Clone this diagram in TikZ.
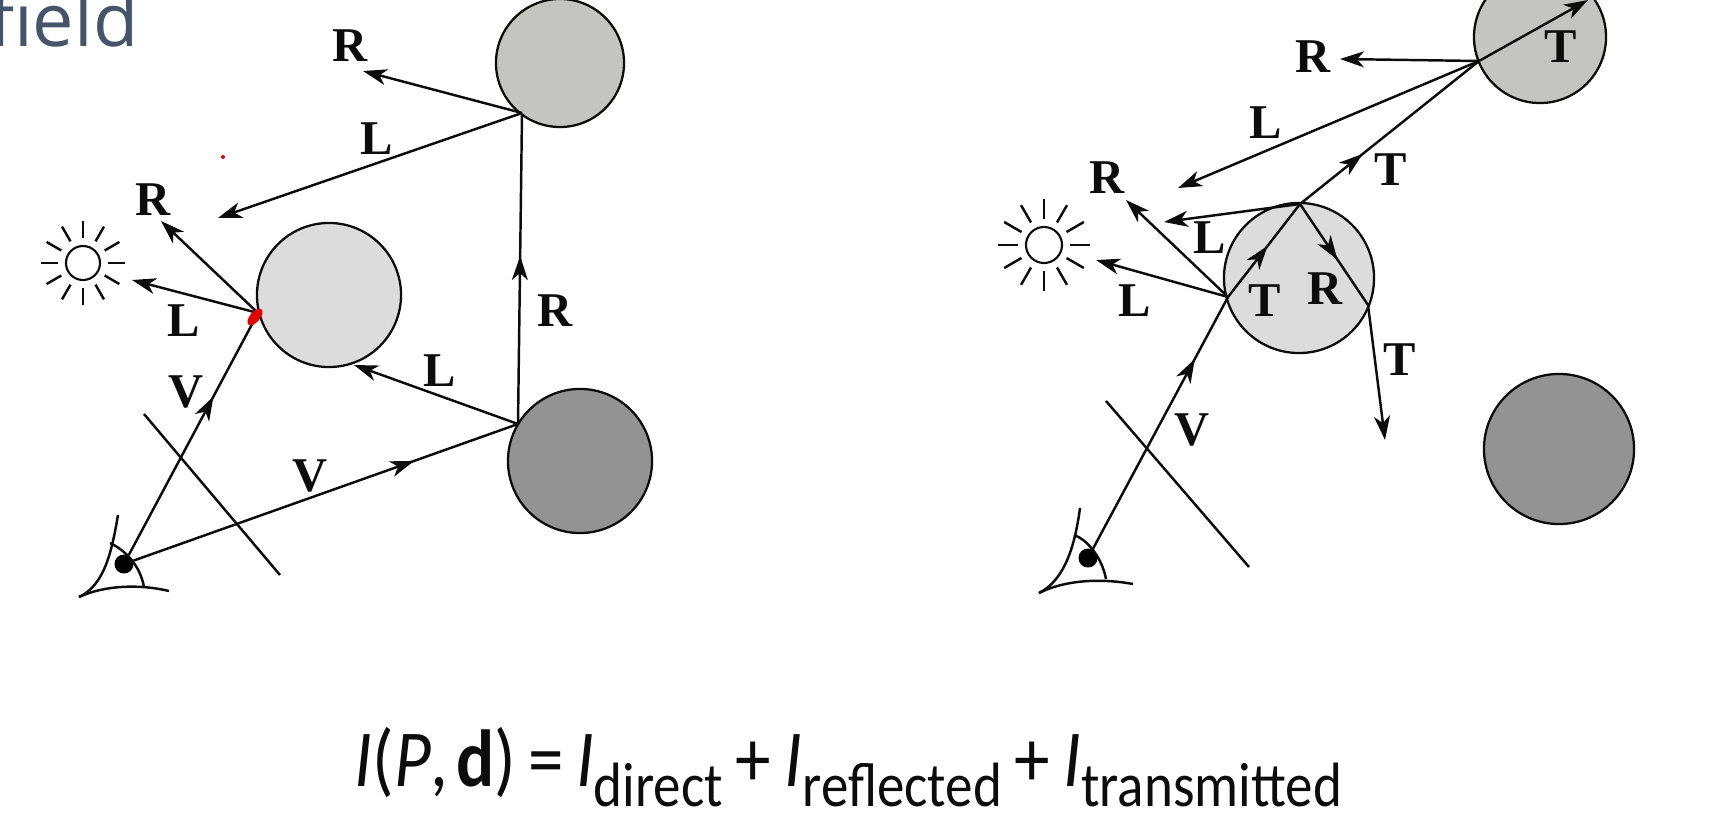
\documentclass[tikz,border=0pt]{standalone}
\usepackage{fontspec}
\setmainfont{Liberation Serif}
\newfontfamily\slidefont{Open Sans}
\newfontfamily\eqfont[FakeStretch=0.88]{Carlito}
\usetikzlibrary{arrows.meta,decorations.markings}
\definecolor{ink}{HTML}{0C0C0C}
\definecolor{titleblue}{HTML}{44546A}
\definecolor{lightball}{HTML}{DCDCDC}
\definecolor{midball}{HTML}{C4C4C0}
\definecolor{darkball}{HTML}{939393}
\tikzset{
  ball/.style={circle, draw=ink, line width=0.65pt, inner sep=0pt},
  sun/.style={circle, draw=ink, line width=0.6pt, inner sep=0pt, fill=white},
  pupil/.style={circle, fill=black, inner sep=0pt, minimum size=1.9mm},
  tag/.style={font=\bfseries\fontsize{13.8}{14}\selectfont, text=ink, inner sep=0pt},
  line/.style={draw=ink, line width=0.7pt},
  ray/.style={line, -{Stealth[length=2.4mm, width=1.6mm, inset=0.7mm]}},
  midray/.style={line, postaction={decorate}, decoration={markings, mark=at position #1 with {\arrow{Stealth[length=2.4mm, width=1.6mm, inset=0.7mm]}}}}
}
\newcommand{\subtext}[1]{\raisebox{-2mm}{\fontsize{17.8}{18}\selectfont #1}}
\begin{document}
\begin{tikzpicture}[x=0.01cm, y=-0.01cm]
\useasboundingbox (0,0) rectangle (1731,821);
\node[anchor=base east, inner sep=0pt, text=titleblue, font=\slidefont\fontsize{21}{22}\selectfont] (title) at (139,46) {field};

\node[ball, fill=midball, minimum size=1.28cm] (topL) at (560,63) {};
\node[ball, fill=lightball, minimum size=1.44cm] (midL) at (329,295) {};
\node[ball, fill=darkball, minimum size=1.44cm] (lowL) at (580,461) {};
\node[sun, minimum size=3.4mm] (sunL) at (83,263) {};
\foreach \a in {0,30,...,330}
  \draw[line] (sunL) ++(\a:25) -- ++(\a:17);
\node[pupil] (eyeL) at (124,564) {};
\coordinate (hitA) at (258,313);
\coordinate (hitB) at (518,424);
\coordinate (hitC) at (522,113);
\coordinate (endA) at (161,221);
\coordinate (endB) at (132,280);
\coordinate (endC) at (354,365);
\coordinate (endD) at (363,71);
\coordinate (endE) at (218,218);
\coordinate (filmA) at (144,414);
\coordinate (filmB) at (280,575);
\draw[line] (filmA) -- (filmB);
\draw[line] (118,515) .. controls (112,550) and (105,585) .. (79,597);
\draw[line] (79,597) .. controls (105,585) and (140,584) .. (169,591);
\draw[line] (110,543) .. controls (125,550) and (140,565) .. (144,587);
\draw[midray=0.655] (eyeL) -- (hitA);
\draw[midray=0.73] (eyeL) -- (hitB);
\draw[midray=0.54] (hitB) -- (hitC);
\draw[ray] (hitA) -- (endA);
\draw[ray] (hitA) -- (endB);
\draw[ray] (hitB) -- (endC);
\draw[ray] (hitC) -- (endD);
\draw[ray] (hitC) -- (endE);
\fill[red!90!black, rotate around={50:(255,317)}] (255,317) ellipse (10 and 5);
\fill[red!90!black] (223,157) circle (2);
\node[tag] (tagA) at (350,46) {R};
\node[tag] (tagB) at (377,139) {L};
\node[tag] (tagC) at (153,200) {R};
\node[tag] (tagD) at (184,321) {L};
\node[tag] (tagE) at (186,392) {V};
\node[tag] (tagF) at (440,371) {L};
\node[tag] (tagG) at (555,311) {R};
\node[tag] (tagH) at (310,476) {V};

\node[ball, fill=midball, minimum size=1.32cm] (topR) at (1540,37) {};
\node[ball, fill=lightball, minimum size=1.5cm] (midR) at (1299,278) {};
\node[ball, fill=darkball, minimum size=1.5cm] (lowR) at (1559,449) {};
\node[sun, minimum size=3.6mm] (sunR) at (1044,245) {};
\foreach \a in {0,30,...,330}
  \draw[line] (sunR) ++(\a:26) -- ++(\a:20);
\node[pupil] (eyeR) at (1088,558) {};
\coordinate (hitD) at (1228,297);
\coordinate (hitE) at (1300,204);
\coordinate (hitF) at (1368,305);
\coordinate (hitG) at (1479,61);
\coordinate (endF) at (1126,200);
\coordinate (endG) at (1096,260);
\coordinate (endH) at (1164,222);
\coordinate (endI) at (1385,440);
\coordinate (endJ) at (1340,59);
\coordinate (endK) at (1178,188);
\coordinate (endL) at (1588,0);
\coordinate (filmC) at (1106,401);
\coordinate (filmD) at (1249,567);
\draw[line] (filmC) -- (filmD);
\draw[line] (1080,508) .. controls (1075,545) and (1065,580) .. (1039,593);
\draw[line] (1039,593) .. controls (1065,580) and (1100,578) .. (1133,584);
\draw[line] (1074,535) .. controls (1088,540) and (1102,558) .. (1106,579);
\draw[midray=0.755] (eyeR) -- (hitD);
\draw[midray=0.55] (hitD) -- (hitE);
\draw[midray=0.35] (hitE) -- (hitG);
\draw[midray=0.55] (hitE) -- (hitF);
\draw[ray] (hitD) -- (endF);
\draw[ray] (hitD) -- (endG);
\draw[ray] (hitE) -- (endH);
\draw[ray] (hitF) -- (endI);
\draw[ray] (hitG) -- (endJ);
\draw[ray] (hitG) -- (endK);
\draw[ray] (hitG) -- (endL);
\node[tag] (tagI) at (1313,57) {R};
\node[tag] (tagJ) at (1561,47) {T};
\node[tag] (tagK) at (1266,123) {L};
\node[tag] (tagL) at (1391,170) {T};
\node[tag] (tagM) at (1107,178) {R};
\node[tag] (tagN) at (1210,238) {L};
\node[tag] (tagO) at (1265,301) {T};
\node[tag] (tagP) at (1325,289) {R};
\node[tag] (tagQ) at (1135,301) {L};
\node[tag] (tagR) at (1400,360) {T};
\node[tag] (tagS) at (1192,430) {V};

\node[anchor=base west, inner sep=0pt, text=ink, font=\eqfont\fontsize{23}{24}\selectfont] (equation) at (354,786) {\textit{I}(\textit{P},\hspace{0.8mm}\textbf{d})\hspace{1.2mm}=\hspace{1.2mm}\textit{I}\subtext{direct}\hspace{1.2mm}+\hspace{1.4mm}\textit{I}\subtext{reflected}\hspace{1.2mm}+\hspace{1.4mm}\textit{I}\subtext{transmitted}};
\end{tikzpicture}
\end{document}
